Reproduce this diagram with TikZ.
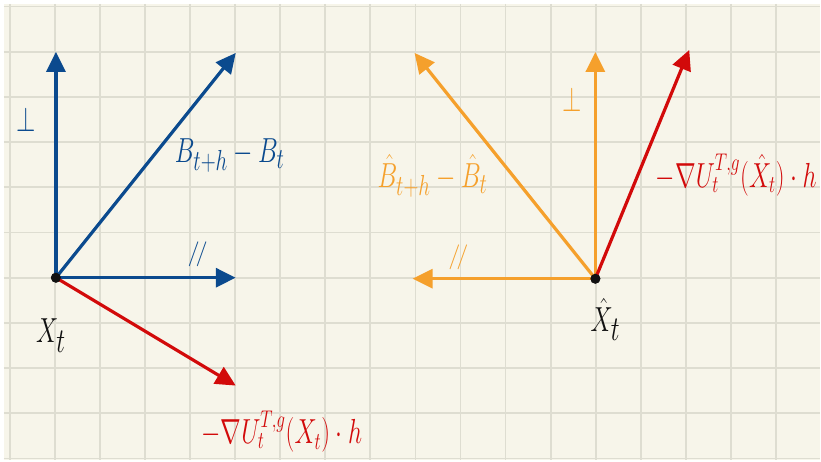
\documentclass[tikz,border=0pt]{standalone}
\usepackage{graphicx}
\usepackage{xcolor}
\definecolor{Paper}{HTML}{F7F5EA}
\definecolor{GridRule}{HTML}{DEDDD1}
\definecolor{PenBlue}{HTML}{0B4A8E}
\definecolor{PenOrange}{HTML}{F5A02C}
\definecolor{PenRed}{HTML}{D20A0A}
\definecolor{PenInk}{HTML}{111111}
\usetikzlibrary{arrows.meta}
\newcommand{\tallhand}[1]{\scalebox{1}[1.4]{#1}}

\begin{document}
\begin{tikzpicture}[x=1pt, y=-1pt,
  >={Triangle[length=20pt, width=19pt]},
  gridrule/.style={draw=GridRule, line width=1.8pt},
  vec/.style={->, line width=3.2pt},
  dotmark/.style={circle, fill=PenInk, inner sep=0pt, minimum size=10pt},
  hand/.style={inner sep=0pt, font=\fontsize{28}{30}\selectfont},
  handbig/.style={inner sep=0pt, font=\fontsize{36}{40}\selectfont},
  handsmall/.style={inner sep=0pt, font=\fontsize{25}{27}\selectfont}
]

%% ---- Paper and grid ----
\fill[white] (0,0) rectangle (821,461);
\fill[Paper] (4,4) rectangle (821,461);
\foreach \i in {0,...,17}
  \draw[gridrule] (10+45.1*\i,4) -- (10+45.1*\i,461);
\foreach \j in {0,...,10}
  \draw[gridrule] (4,6.5+45.25*\j) -- (821,6.5+45.25*\j);

%% ---- Left: X_t ----
\node[dotmark] (X) at (56,278) {};
\coordinate (bperp) at (56,52);
\coordinate (bdiff) at (236,53);
\coordinate (bpar)  at (236,278);
\coordinate (rgrad) at (236,386);

\draw[vec, PenBlue] (X.center) -- (bperp);
\draw[vec, PenBlue] (X.center) -- (bdiff);
\draw[vec, PenBlue] (X.center) -- (bpar);
\draw[vec, PenRed]  (X.center) -- (rgrad);
\node[dotmark] at (X) {};

\node[hand, PenBlue] (bperplbl) at (26,120) {\tallhand{$\perp$}};
\node[hand, PenBlue] (bdifflbl) at (230,156) {\tallhand{$B_{t+h}-B_t$}};
\node[hand, PenBlue] (bparlbl)  at (198,255) {$/\!/$};
\node[handbig, PenInk] (Xlbl)   at (51,336) {\tallhand{$X_t$}};
\node[handsmall, PenRed] (rgradlbl) at (282,432) {\tallhand{$-\nabla U_t^{T,g}(X_t)\cdot h$}};

%% ---- Right: hat X_t ----
\node[dotmark] (Xh) at (596,279) {};
\coordinate (operp) at (596,52);
\coordinate (odiff) at (415,53);
\coordinate (opar)  at (413,279);
\coordinate (hgrad) at (690,50);

\draw[vec, PenOrange] (Xh.center) -- (operp);
\draw[vec, PenOrange] (Xh.center) -- (odiff);
\draw[vec, PenOrange] (Xh.center) -- (opar);
\draw[vec, PenRed]    (Xh.center) -- (hgrad);
\node[dotmark] at (Xh) {};

\node[hand, PenOrange] (operplbl) at (573,100) {\tallhand{$\perp$}};
\node[hand, PenOrange] (odifflbl) at (433,176) {\tallhand{$\hat B_{t+h}-\hat B_t$}};
\node[hand, PenOrange] (oparlbl)  at (459,258) {$/\!/$};
\node[handbig, PenInk] (Xhlbl)    at (606,320) {\tallhand{$\hat X_t$}};
\node[handsmall, PenRed] (hgradlbl) at (737,175) {\tallhand{$-\nabla U_t^{T,g}(\hat X_t)\cdot h$}};

\end{tikzpicture}
\end{document}
